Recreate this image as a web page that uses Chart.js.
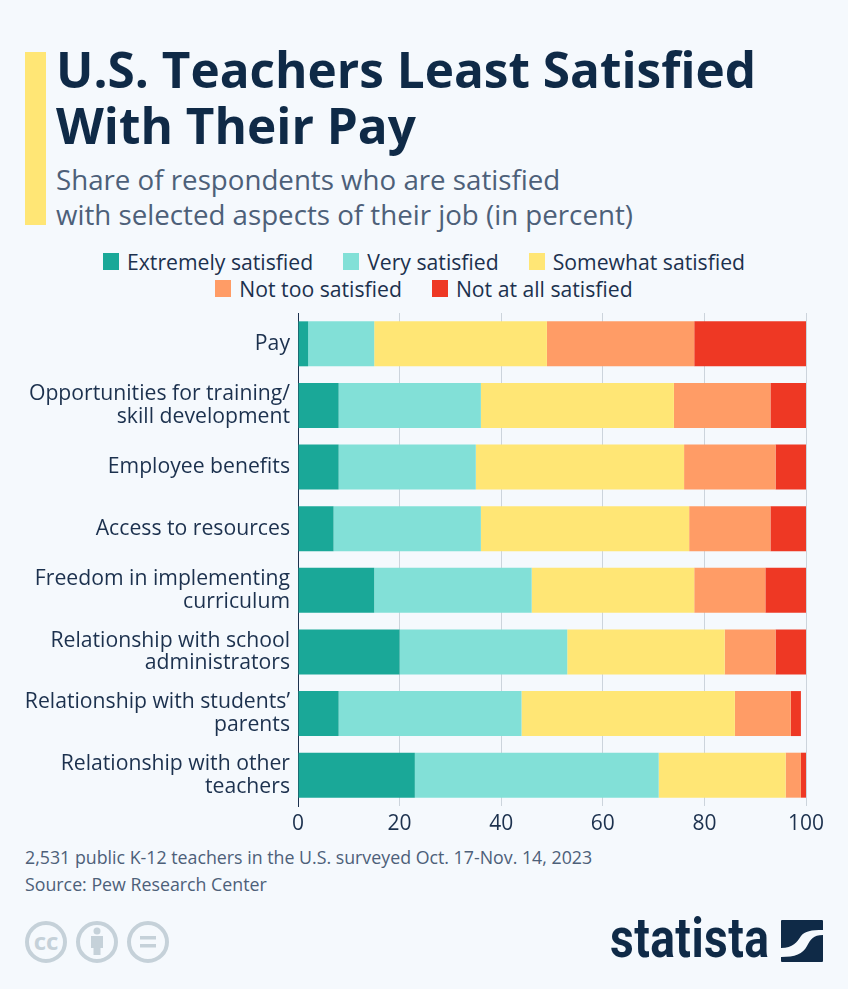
<!DOCTYPE html>
<html>
<head>
<meta charset="utf-8">
<title>U.S. Teachers Least Satisfied With Their Pay</title>
<script src="https://cdn.jsdelivr.net/npm/chart.js@4"></script>
<style>
  html, body { margin: 0; padding: 0; }
  body { position: relative; width: 848px; height: 989px; overflow: hidden; background: #f5f9fd; font-family: "Open Sans", sans-serif; }
  .abs { position: absolute; white-space: nowrap; }
  #accent { left: 25px; top: 52px; width: 21px; height: 173px; background: #ffe675; }
  #title { left: 56px; top: 41px; font-size: 49.5px; line-height: 56px; font-weight: 700; color: #0f2a47; }
  #subtitle { left: 56px; top: 162px; font-size: 27.7px; line-height: 35px; color: #4d6079; }
  #legend { left: 0; top: 248px; width: 848px; font-size: 21.2px; line-height: 27px; color: #1c314e; text-align: center; }
  #legend .row { display: flex; justify-content: center; }
  #legend .item { display: flex; align-items: center; margin: 0 15px; }
  #legend .box { width: 16px; height: 17px; margin-right: 8px; }
  #chartWrap { left: 0; top: 312px; width: 848px; height: 530px; }
  #notes { left: 25px; top: 844px; font-size: 17.8px; line-height: 27px; color: #4d6079; }
  #logo { left: 610px; top: 908px; font-family: "Roboto", sans-serif; font-weight: 700; font-size: 55px; line-height: 60px; color: #0f2a47; transform-origin: left top; transform: scaleX(0.84); letter-spacing: 0.5px; }
</style>
</head>
<body>
<div class="abs" id="accent"></div>
<div class="abs" id="title">U.S. Teachers Least Satisfied<br>With Their Pay</div>
<div class="abs" id="subtitle">Share of respondents who are satisfied<br>with selected aspects of their job (in percent)</div>
<div class="abs" id="legend"></div>
<div class="abs" id="chartWrap"><canvas id="chart"></canvas></div>
<div class="abs" id="notes">2,531 public K-12 teachers in the U.S. surveyed Oct. 17-Nov. 14, 2023<br>Source: Pew Research Center</div>

<svg class="abs" style="left:25px;top:920px" width="146" height="44" fill="none" stroke="#c5d1d9" stroke-width="4">
  <circle cx="21" cy="22" r="19"/>
  <circle cx="72" cy="22" r="19"/>
  <circle cx="123" cy="22" r="19"/>
  <text x="21" y="30" font-family="Open Sans" font-size="24" font-weight="700" fill="#c5d1d9" stroke="none" text-anchor="middle">cc</text>
  <circle cx="72" cy="11" r="3.5" fill="#c5d1d9" stroke="none"/>
  <rect x="66" y="16" width="12" height="12" fill="#c5d1d9" stroke="none"/>
  <rect x="68.5" y="26" width="7" height="9" fill="#c5d1d9" stroke="none"/>
  <rect x="115" y="16" width="16" height="3.5" fill="#c5d1d9" stroke="none"/>
  <rect x="115" y="24" width="16" height="3.5" fill="#c5d1d9" stroke="none"/>
</svg>
<div class="abs" id="logo">statista</div>
<svg class="abs" style="left:781px;top:920px" width="42" height="42">
  <rect width="42" height="42" rx="1" fill="#0f2a47"/>
  <path d="M0 28 C12 28 16 22 20 16 C24 11 30 10 42 10 L42 15 C32 15 30 19 26 26 C22 34 14 37 0 37 Z" fill="#f5f9fd"/>
</svg>

<script>
const categories = [
  'Pay',
  ['Opportunities for training/', 'skill development'],
  'Employee benefits',
  'Access to resources',
  ['Freedom in implementing', 'curriculum'],
  ['Relationship with school', 'administrators'],
  ['Relationship with students\u2019', 'parents'],
  ['Relationship with other', 'teachers']
];
const seriesNames = ['Extremely satisfied', 'Very satisfied', 'Somewhat satisfied', 'Not too satisfied', 'Not at all satisfied'];
const seriesColors = ['#1aa898', '#82e0d7', '#ffe675', '#ff9c66', '#ee3824'];
const extremely = [2, 8, 8, 7, 15, 20, 8, 23];
const very = [13, 28, 27, 29, 31, 33, 36, 48];
const somewhat = [34, 38, 41, 41, 32, 31, 42, 25];
const notToo = [29, 19, 18, 16, 14, 10, 11, 3];
const notAtAll = [22, 7, 6, 7, 8, 6, 2, 1];
const legendRows = [[0, 1, 2], [3, 4]];

const allSeries = [extremely, very, somewhat, notToo, notAtAll];

// legend is html so the rows break like the original
const legendEl = document.getElementById('legend');
legendRows.forEach((row) => {
  const rowEl = document.createElement('div');
  rowEl.className = 'row';
  row.forEach((i) => {
    const item = document.createElement('div');
    item.className = 'item';
    const box = document.createElement('span');
    box.className = 'box';
    box.style.background = seriesColors[i];
    item.appendChild(box);
    item.appendChild(document.createTextNode(seriesNames[i]));
    rowEl.appendChild(item);
  });
  legendEl.appendChild(rowEl);
});

new Chart(document.getElementById('chart'), {
  type: 'bar',
  data: {
    labels: categories,
    datasets: allSeries.map((values, i) => ({
      label: seriesNames[i],
      data: values,
      backgroundColor: seriesColors[i],
      borderWidth: 0,
      barPercentage: 0.73,
      categoryPercentage: 1
    }))
  },
  options: {
    indexAxis: 'y',
    responsive: true,
    maintainAspectRatio: false,
    animation: false,
    layout: { padding: { right: 42, top: 1, bottom: 0, left: 0 } },
    plugins: { legend: { display: false }, tooltip: { enabled: false } },
    scales: {
      x: {
        stacked: true,
        min: 0,
        max: 100,
        afterFit: (scale) => { scale.height = 36; },
        ticks: { stepSize: 20, color: '#1c314e', font: { family: 'Open Sans', size: 21 }, padding: 5, maxRotation: 0 },
        grid: { color: '#ccd4dc', lineWidth: 1, drawTicks: false },
        border: { display: false }
      },
      y: {
        stacked: true,
        // the two line labels otherwise push the plot down
        afterFit: (scale) => { scale.width = 298; scale.paddingTop = 0; scale.paddingBottom = 0; },
        ticks: { color: '#1c314e', font: { family: 'Open Sans', size: 21.2, lineHeight: 1.08 }, padding: 8 },
        grid: { display: false, drawTicks: false },
        border: { display: true, color: '#1c314e', width: 1 }
      }
    }
  }
});
</script>
</body>
</html>
